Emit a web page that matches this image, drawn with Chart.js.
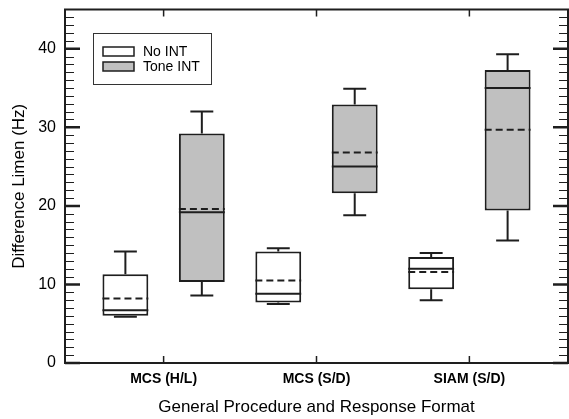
<!DOCTYPE html>
<html>
<head>
<meta charset="utf-8">
<script src="https://cdn.jsdelivr.net/npm/chart.js@4.4.0/dist/chart.umd.min.js"></script>
<style>
  html, body { margin: 0; padding: 0; background: #fff; }
  #wrap { width: 569px; height: 419px; }
</style>
</head>
<body>
<div id="wrap"><canvas id="chart" width="569" height="419"></canvas></div>
<script>
// Categorias e eixos
const categories = ['MCS (H/L)', 'MCS (S/D)', 'SIAM (S/D)'];
const groupPos = [1, 2, 3];
const yTicks = [0, 10, 20, 30, 40];

// No INT (Hz)
const noIntMin = [5.9, 7.5, 8.0];
const noIntQ1 = [6.0, 7.7, 9.4];
const noIntMedian = [6.7, 8.8, 12.0];
const noIntMean = [8.2, 10.5, 11.6];
const noIntQ3 = [11.3, 14.2, 13.5];
const noIntMax = [14.2, 14.6, 14.0];

// Tone INT (Hz)
const toneMin = [8.6, 18.8, 15.6];
const toneQ1 = [10.3, 21.6, 19.4];
const toneMedian = [19.2, 25.0, 35.0];
const toneMean = [19.6, 26.8, 29.7];
const toneQ3 = [29.2, 32.9, 37.3];
const toneMax = [32.0, 34.9, 39.3];

// Geometria das caixas (unidades do eixo x)
const SHIFT = 0.25;
const BOX_HALF = 0.15;
const CAP_HALF = 0.075;
const INK = '#1e1e1e';
const FONT = "Arial, 'Liberation Sans', sans-serif";

Chart.defaults.font.family = FONT;
Chart.defaults.color = '#000';

const noPos = groupPos.map(p => p - SHIFT);
const tonePos = groupPos.map(p => p + SHIFT);

function hLines(pos, values, half) {
    const pts = [];
    pos.forEach((x, i) => {
        pts.push({ x: x - half, y: values[i] }, { x: x + half, y: values[i] }, { x: x, y: null });
    });
    return pts;
}

function whiskers(pos, lo, q1, q3, hi) {
    const pts = [];
    pos.forEach((x, i) => {
        pts.push({ x, y: q3[i] }, { x, y: hi[i] }, { x, y: null });
        pts.push({ x: x - CAP_HALF, y: hi[i] }, { x: x + CAP_HALF, y: hi[i] }, { x, y: null });
        pts.push({ x, y: q1[i] }, { x, y: lo[i] }, { x, y: null });
        pts.push({ x: x - CAP_HALF, y: lo[i] }, { x: x + CAP_HALF, y: lo[i] }, { x, y: null });
    });
    return pts;
}

function boxes(pos, q1, q3) {
    return pos.map((x, i) => ({ x, y: [q1[i], q3[i]] }));
}

const lineStyle = { type: 'line', borderColor: INK, borderWidth: 2, pointRadius: 0, spanGaps: false, tension: 0, order: 1 };
const barStyle = { borderColor: INK, borderWidth: 2, borderSkipped: false, grouped: false, barPercentage: 0.6, categoryPercentage: 1, order: 2 };

// Moldura e marcas dos eixos (para dentro)
const frameTicks = {
    id: 'frameTicks',
    afterDatasetsDraw(chart) {
        const { ctx, chartArea: a, scales: { x, y } } = chart;
        ctx.save();
        ctx.strokeStyle = INK;
        // menores
        ctx.lineWidth = 1;
        ctx.beginPath();
        for (let v = y.min + 1; v < y.max; v++) {
            if (yTicks.includes(v)) continue;
            const py = Math.round(y.getPixelForValue(v)) + 0.5;
            ctx.moveTo(a.left, py); ctx.lineTo(a.left + 9, py);
            ctx.moveTo(a.right, py); ctx.lineTo(a.right - 9, py);
        }
        ctx.stroke();
        // maiores
        ctx.lineWidth = 2.5;
        ctx.beginPath();
        yTicks.forEach(v => {
            const py = y.getPixelForValue(v);
            ctx.moveTo(a.left, py); ctx.lineTo(a.left + 15, py);
            ctx.moveTo(a.right, py); ctx.lineTo(a.right - 15, py);
        });
        ctx.stroke();
        // categorias
        ctx.lineWidth = 1.5;
        ctx.beginPath();
        groupPos.forEach(v => {
            const px = x.getPixelForValue(v);
            ctx.moveTo(px, a.top); ctx.lineTo(px, a.top + 7);
            ctx.moveTo(px, a.bottom); ctx.lineTo(px, a.bottom - 7);
        });
        ctx.stroke();
        ctx.lineWidth = 2;
        ctx.strokeRect(a.left, a.top, a.width, a.height);
        ctx.restore();
    }
};

// Legenda com moldura dentro da área do gráfico
const boxLegend = {
    id: 'boxLegend',
    afterDraw(chart) {
        const { ctx, chartArea: a } = chart;
        const left = Math.round(a.left + 28), top = Math.round(a.top + 23);
        ctx.save();
        ctx.lineWidth = 1;
        ctx.strokeStyle = '#333';
        ctx.strokeRect(left + 0.5, top + 0.5, 118, 51);
        chart.data.datasets.filter(d => d.type !== 'line').forEach((d, i) => {
            const yy = top + 14 + i * 15;
            ctx.fillStyle = d.backgroundColor;
            ctx.fillRect(left + 10, yy, 31, 9);
            ctx.lineWidth = 1.5;
            ctx.strokeStyle = INK;
            ctx.strokeRect(left + 10, yy, 31, 9);
            ctx.fillStyle = '#000';
            ctx.font = '14px ' + FONT;
            ctx.textBaseline = 'middle';
            ctx.fillText(d.label, left + 50, yy + 5);
        });
        ctx.restore();
    }
};

new Chart(document.getElementById('chart'), {
    type: 'bar',
    data: {
        datasets: [
            { label: 'No INT', data: boxes(noPos, noIntQ1, noIntQ3), backgroundColor: '#ffffff', ...barStyle },
            { label: 'Tone INT', data: boxes(tonePos, toneQ1, toneQ3), backgroundColor: '#c0c0c0', ...barStyle },
            { label: 'w1', data: whiskers(noPos, noIntMin, noIntQ1, noIntQ3, noIntMax), ...lineStyle },
            { label: 'w2', data: whiskers(tonePos, toneMin, toneQ1, toneQ3, toneMax), ...lineStyle },
            { label: 'm1', data: hLines(noPos, noIntMedian, BOX_HALF), ...lineStyle },
            { label: 'm2', data: hLines(tonePos, toneMedian, BOX_HALF), ...lineStyle },
            { label: 'a1', data: hLines(noPos, noIntMean, BOX_HALF), ...lineStyle, borderDash: [7, 4] },
            { label: 'a2', data: hLines(tonePos, toneMean, BOX_HALF), ...lineStyle, borderDash: [7, 4] }
        ]
    },
    options: {
        responsive: false,
        animation: false,
        events: [],
        layout: { padding: { top: 9.5, right: 1, left: 0, bottom: 0 } },
        plugins: { legend: { display: false }, tooltip: { enabled: false } },
        scales: {
            x: {
                type: 'linear',
                offset: false,
                min: 0.355,
                max: 3.645,
                grid: { display: false, drawTicks: false, offset: false },
                border: { display: false },
                afterBuildTicks: s => { s.ticks = groupPos.map(v => ({ value: v })); },
                ticks: {
                    autoSkip: false,
                    maxRotation: 0,
                    padding: 8,
                    font: { size: 14, weight: 'bold' },
                    callback: (v, i) => categories[i]
                },
                title: {
                    display: true,
                    text: 'General Procedure and Response Format',
                    font: { size: 17 },
                    padding: { top: 0, bottom: 1 }
                },
                afterFit: s => { s.height = 56; s.paddingLeft = 0; s.paddingRight = 0; }
            },
            y: {
                min: 0,
                max: 45,
                grid: { display: false, drawTicks: false },
                border: { display: false },
                afterBuildTicks: s => { s.ticks = yTicks.map(v => ({ value: v })); },
                ticks: { padding: 9, font: { size: 16 } },
                title: {
                    display: true,
                    text: 'Difference Limen (Hz)',
                    font: { size: 17 },
                    padding: { top: 9, bottom: 0 }
                },
                afterFit: s => { s.width = 65; s.paddingTop = 0; s.paddingBottom = 0; }
            }
        }
    },
    plugins: [frameTicks, boxLegend]
});
</script>
</body>
</html>
